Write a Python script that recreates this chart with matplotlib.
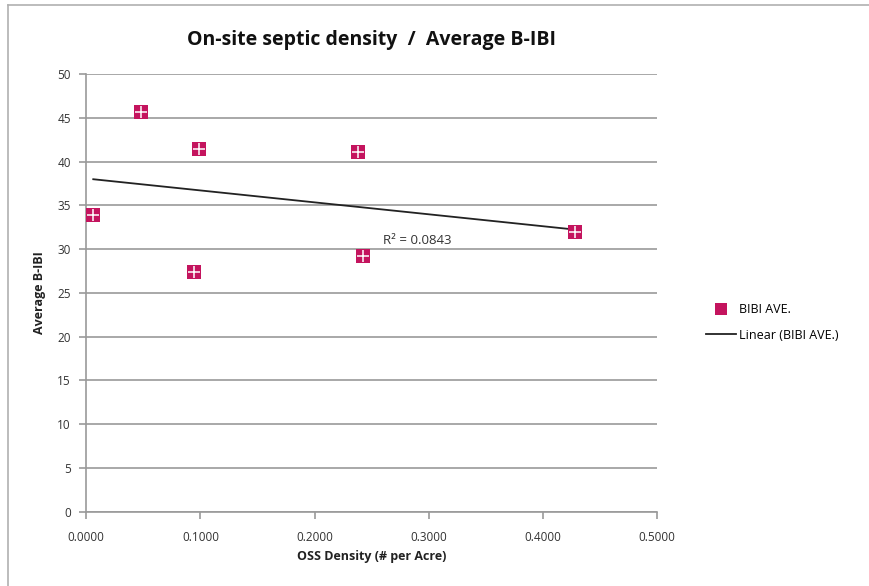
import numpy as np
import matplotlib
matplotlib.use('Agg')
import matplotlib.pyplot as plt
from matplotlib.lines import Line2D

# values
oss_density = [0.0061, 0.0478, 0.0941, 0.0990, 0.2375, 0.2419, 0.4280]
bibi_ave = [33.9, 45.7, 27.4, 41.4, 41.1, 29.2, 32.0]
x_ticks = [0.0, 0.1, 0.2, 0.3, 0.4, 0.5]
y_ticks = list(range(0, 55, 5))
r2_text = 'R² = 0.0843'

plt.rcParams['font.family'] = ['Open Sans', 'DejaVu Sans']

fig = plt.figure(figsize=(8.69, 5.86), dpi=100)
ax = fig.add_axes([0.0993, 0.1268, 0.6571, 0.7469])

marker_col = '#C4145E'
grey = '#9a9a9a'

# markers: square with a white plus inside
ax.scatter(oss_density, bibi_ave, marker='s', s=88, color=marker_col,
           zorder=3, linewidths=0)
ax.scatter(oss_density, bibi_ave, marker='+', s=80, color='white',
           linewidths=1.1, zorder=4)

# linear trendline
slope, icpt = np.polyfit(oss_density, bibi_ave, 1)
xt = np.array([min(oss_density), max(oss_density)])
ax.plot(xt, slope * xt + icpt, color='#222222', lw=1.3, zorder=2)
ax.text(0.2597, 30.6, r2_text, fontsize=9.5, color='#333333')

ax.set_xlim(0, 0.5)
ax.set_ylim(0, 50)
ax.set_xticks(x_ticks)
ax.set_xticklabels(['%.4f' % v for v in x_ticks])
ax.set_yticks(y_ticks)
ax.grid(axis='y', color=grey, lw=1.2)
ax.set_axisbelow(True)
for s in ['top', 'right']:
    ax.spines[s].set_visible(False)
for s in ['left', 'bottom']:
    ax.spines[s].set_color(grey)
    ax.spines[s].set_linewidth(1.2)
ax.tick_params(axis='both', colors=grey, labelcolor='#333333', labelsize=8.5,
               length=5, width=1.2)
ax.tick_params(axis='x', pad=9)
ax.tick_params(axis='y', pad=6)

ax.set_xlabel('OSS Density (# per Acre)', fontsize=9, fontweight='bold',
              color='#222222', labelpad=4)
ax.set_ylabel('Average B-IBI', fontsize=9, fontweight='bold',
              color='#222222', labelpad=8)
fig.text(0.428, 0.932, 'On-site septic density  /  Average B-IBI',
         ha='center', va='center', fontsize=14, fontweight='bold',
         color='#111111')

handles = [
    Line2D([], [], marker='s', ls='none', color=marker_col, markersize=8,
           markeredgewidth=0),
    Line2D([], [], color='#222222', lw=1.3),
]
fig.legend(handles, ['BIBI AVE.', 'Linear (BIBI AVE.)'],
           loc='center left', bbox_to_anchor=(0.800, 0.450), frameon=False,
           fontsize=9, handlelength=2.4, handletextpad=0.2, labelspacing=1.0)

# outer chart border (left and top edges visible)
fig.add_artist(Line2D([0.0092, 0.0092], [0.0, 0.9915], color='#b0b0b0',
                      lw=1.2, transform=fig.transFigure))
fig.add_artist(Line2D([0.0092, 1.0], [0.9915, 0.9915], color='#b0b0b0',
                      lw=1.2, transform=fig.transFigure))

fig.savefig('out.png', dpi=100)
